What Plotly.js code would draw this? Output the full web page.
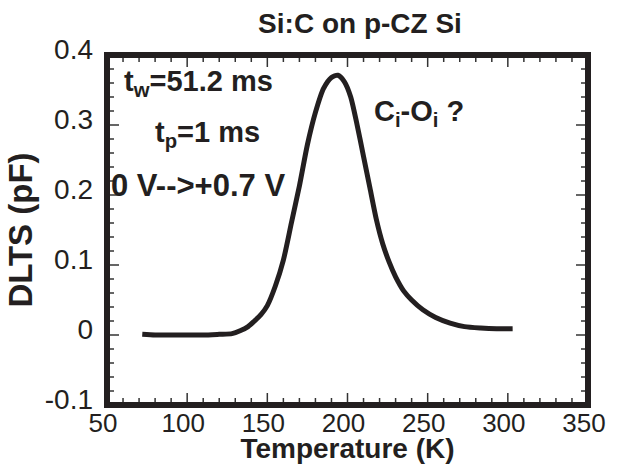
<!DOCTYPE html>
<html>
<head>
<meta charset="utf-8">
<script src="https://cdn.plot.ly/plotly-3.0.1.min.js"></script>
<style>html,body{margin:0;padding:0;background:#fff;}#chart{width:617px;height:464px;}</style>
</head>
<body>
<div id="chart"></div>
<script>
// Temperature (K)
const temperature = [72, 80, 90, 100, 110, 120, 128, 133, 138, 142, 146, 150, 155, 160, 165, 170, 175, 180, 185, 190, 194, 198, 202, 206, 210, 214, 218, 222, 226, 230, 235, 240, 247, 255, 264, 273, 283, 293, 303];
// DLTS signal (pF)
const dlts = [0.001, 0.000, 0.000, 0.000, 0.000, 0.001, 0.002, 0.006, 0.012, 0.020, 0.029, 0.042, 0.070, 0.107, 0.160, 0.213, 0.272, 0.318, 0.352, 0.368, 0.371, 0.362, 0.340, 0.300, 0.255, 0.210, 0.165, 0.130, 0.104, 0.083, 0.063, 0.050, 0.036, 0.025, 0.017, 0.012, 0.010, 0.009, 0.009];

// tick positions and labels
const xTicks = [50, 100, 150, 200, 250, 300, 350];
const xMinorTicks = [60, 70, 80, 90, 110, 120, 130, 140, 160, 170, 180, 190, 210, 220, 230, 240, 260, 270, 280, 290, 310, 320, 330, 340];
const yTicks = [-0.1, 0, 0.1, 0.2, 0.3, 0.4];
const yTickText = ['-0.1', '0', '0.1', '0.2', '0.3', '0.4'];
const yMinorTicks = [-0.08, -0.06, -0.04, -0.02, 0.02, 0.04, 0.06, 0.08, 0.12, 0.14, 0.16, 0.18, 0.22, 0.24, 0.26, 0.28, 0.32, 0.34, 0.36, 0.38];

const xRange = [50, 350];
const yRange = [-0.1, 0.4];

const ink = '#231f20';
const tickInk = '#333';
const fam = 'Liberation Sans, Arial, Helvetica, sans-serif';

// inside tick marks on all four sides, placed through the axes' own scales
const tickShapes = [];
function addXTicks(vals, len) {
  vals.forEach(v => {
    tickShapes.push({type: 'line', xref: 'x', x0: v, x1: v, yref: 'paper', ysizemode: 'pixel', yanchor: 0, y0: 0, y1: len, line: {color: tickInk, width: 1.5}});
    tickShapes.push({type: 'line', xref: 'x', x0: v, x1: v, yref: 'paper', ysizemode: 'pixel', yanchor: 1, y0: 0, y1: -len, line: {color: tickInk, width: 1.5}});
  });
}
function addYTicks(vals, len) {
  vals.forEach(v => {
    tickShapes.push({type: 'line', yref: 'y', y0: v, y1: v, xref: 'paper', xsizemode: 'pixel', xanchor: 0, x0: 0, x1: len, line: {color: tickInk, width: 1.5}});
    tickShapes.push({type: 'line', yref: 'y', y0: v, y1: v, xref: 'paper', xsizemode: 'pixel', xanchor: 1, x0: 0, x1: -len, line: {color: tickInk, width: 1.5}});
  });
}
addXTicks(xTicks, 12);
addXTicks(xMinorTicks, 7);
addYTicks(yTicks, 12);
addYTicks(yMinorTicks, 7);

const curve = {
  x: temperature, y: dlts, type: 'scatter', mode: 'lines',
  line: {color: ink, width: 5, shape: 'spline', smoothing: 0.7},
  hoverinfo: 'skip'
};

const annFont = {family: fam, size: 29, color: ink, weight: 'bold'};

const layout = {
  width: 617, height: 464,
  margin: {l: 107, r: 29, t: 55, b: 59, pad: 0},
  paper_bgcolor: '#fff', plot_bgcolor: '#fff',
  showlegend: false,
  title: {text: 'Si:C on p-CZ Si', x: 360/617, xanchor: 'center', xref: 'container',
          y: 1 - 23/464, yanchor: 'middle', yref: 'container',
          font: {family: fam, size: 28, color: ink, weight: 'bold'}},
  xaxis: {
    range: xRange, tickmode: 'array', tickvals: xTicks, ticktext: xTicks.map(String),
    ticks: '', showline: false, showgrid: false, zeroline: false,
    tickfont: {family: fam, size: 26, color: ink}, ticklabelshift: -4,
    title: {text: 'Temperature (K)', font: {family: fam, size: 28, color: ink, weight: 'bold'}}
  },
  yaxis: {
    range: yRange, tickmode: 'array', tickvals: yTicks, ticktext: yTickText,
    ticks: '', showline: false, showgrid: false, zeroline: false,
    tickfont: {family: fam, size: 28, color: ink}, ticklabelshift: -6, ticklabelstandoff: 13,
    title: {text: 'DLTS (pF)', font: {family: fam, size: 33, color: ink, weight: 'bold'}, standoff: 2}
  },
  shapes: tickShapes.concat([{type: 'rect', xref: 'paper', yref: 'paper', x0: 0, x1: 1, y0: 0, y1: 1,
            line: {color: ink, width: 6}, layer: 'above'}]),
  annotations: [
    {text: 't<sub>w</sub>=51.2 ms', x: 59.3, y: 0.36, xref: 'x', yref: 'y', xanchor: 'left', yanchor: 'middle', showarrow: false, font: annFont},
    {text: 't<sub>p</sub>=1 ms', x: 78.7, y: 0.287, xref: 'x', yref: 'y', xanchor: 'left', yanchor: 'middle', showarrow: false, font: annFont},
    {text: '0 V--&gt;+0.7 V', x: 51.3, y: 0.214, xref: 'x', yref: 'y', xanchor: 'left', yanchor: 'middle', showarrow: false, font: {family: fam, size: 31, color: ink, weight: 'bold'}},
    {text: 'C<sub>i</sub>-O<sub>i</sub> ?', x: 215.5, y: 0.317, xref: 'x', yref: 'y', xanchor: 'left', yanchor: 'middle', showarrow: false, font: annFont}
  ]
};

Plotly.newPlot('chart', [curve], layout, {displayModeBar: false, staticPlot: true});
</script>
</body>
</html>
